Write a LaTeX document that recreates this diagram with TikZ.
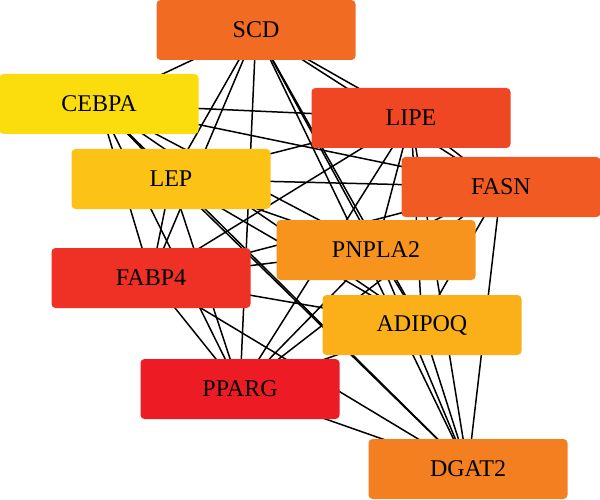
\documentclass[tikz,border=0pt]{standalone}
\usepackage{fontspec}
\setmainfont{Liberation Serif}
\usetikzlibrary{backgrounds}
\definecolor{cSCD}{HTML}{F26B22}
\definecolor{cCEBPA}{HTML}{FBDD0E}
\definecolor{cLIPE}{HTML}{EF4623}
\definecolor{cLEP}{HTML}{FCC316}
\definecolor{cFASN}{HTML}{F15A22}
\definecolor{cPNPLA}{HTML}{F7941D}
\definecolor{cFABP}{HTML}{EE3124}
\definecolor{cADIPOQ}{HTML}{FBB019}
\definecolor{cPPARG}{HTML}{ED1C24}
\definecolor{cDGAT}{HTML}{F47F21}
\tikzset{
  gene/.style={rounded corners=4pt, minimum width=199pt, minimum height=60pt,
    inner sep=0pt, font=\fontsize{24}{28}\selectfont, text=black},
  link/.style={black, line width=1.5pt}
}
\begin{document}
\begin{tikzpicture}[x=1pt,y=-1pt]
\useasboundingbox (0,0) rectangle (600,500);
\node[gene, fill=cSCD]    (scd)    at (256,30)  {SCD};
\node[gene, fill=cCEBPA]  (cebpa)  at (99,104)  {CEBPA};
\node[gene, fill=cLIPE]   (lipe)   at (411,118) {LIPE};
\node[gene, fill=cLEP]    (lep)    at (171,179) {LEP};
\node[gene, fill=cFASN]   (fasn)   at (501,187) {FASN};
\node[gene, fill=cPNPLA]  (pnpla)  at (376,250) {PNPLA2};
\node[gene, fill=cFABP]   (fabp)   at (151,278) {FABP4};
\node[gene, fill=cADIPOQ] (adipoq) at (422,325) {ADIPOQ};
\node[gene, fill=cPPARG]  (pparg)  at (240,389) {PPARG};
\node[gene, fill=cDGAT]   (dgat)   at (468,469) {DGAT2};
\begin{pgfonlayer}{background}
\foreach \a/\b in {scd/cebpa,scd/lipe,scd/lep,scd/fasn,scd/pnpla,scd/fabp,scd/adipoq,scd/pparg,scd/dgat,
  cebpa/lipe,cebpa/lep,cebpa/fasn,cebpa/pnpla,cebpa/fabp,cebpa/adipoq,cebpa/pparg,cebpa/dgat,
  lipe/lep,lipe/fasn,lipe/pnpla,lipe/fabp,lipe/adipoq,lipe/pparg,lipe/dgat,
  lep/fasn,lep/pnpla,lep/fabp,lep/adipoq,lep/pparg,lep/dgat,
  fasn/pnpla,fasn/fabp,fasn/adipoq,fasn/pparg,fasn/dgat,
  pnpla/fabp,pnpla/adipoq,pnpla/pparg,pnpla/dgat,
  fabp/adipoq,fabp/pparg,fabp/dgat,
  adipoq/pparg,adipoq/dgat,
  pparg/dgat}
  \draw[link] (\a.center) -- (\b.center);
\end{pgfonlayer}
\end{tikzpicture}
\end{document}
